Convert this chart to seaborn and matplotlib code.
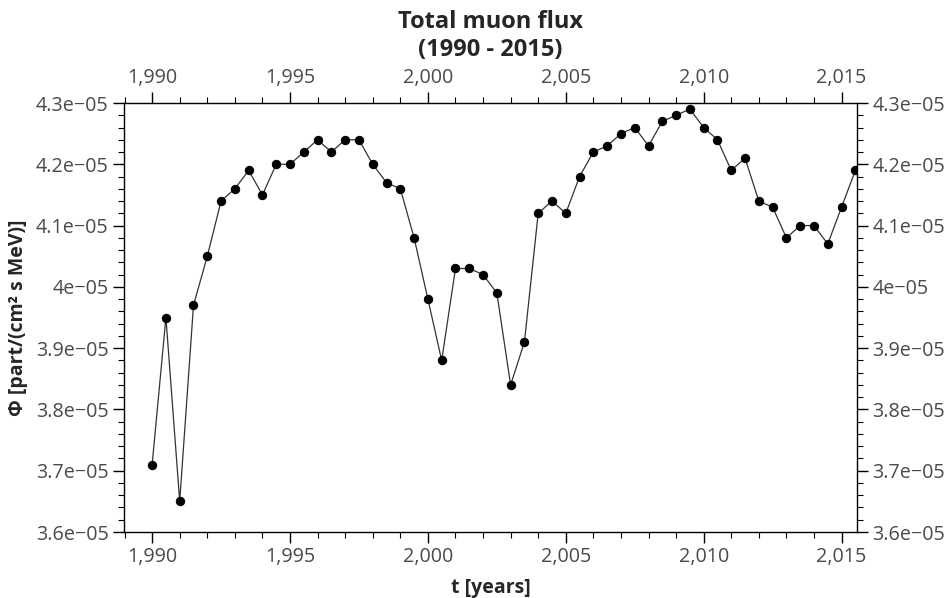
import pandas as pd
import matplotlib
matplotlib.use("Agg")
import matplotlib.pyplot as plt
import seaborn as sns
from matplotlib.ticker import MultipleLocator, FuncFormatter

# half-year samples, flux in units of 1e-05 part/(cm^2 s MeV)
years = [1990 + 0.5 * i for i in range(52)]
flux = [3.71, 3.95, 3.65, 3.97, 4.05, 4.14, 4.16, 4.19, 4.15, 4.20,
        4.20, 4.22, 4.24, 4.22, 4.24, 4.24, 4.20, 4.17, 4.16, 4.08,
        3.98, 3.88, 4.03, 4.03, 4.02, 3.99, 3.84, 3.91, 4.12, 4.14,
        4.12, 4.18, 4.22, 4.23, 4.25, 4.26, 4.23, 4.27, 4.28, 4.29,
        4.26, 4.24, 4.19, 4.21, 4.14, 4.13, 4.08, 4.10, 4.10, 4.07,
        4.13, 4.19]

df = pd.DataFrame({"t": years, "phi": [v * 1e-5 for v in flux]})

sns.set_style("ticks")
plt.rcParams["font.family"] = ["Open Sans", "DejaVu Sans"]

fig = plt.figure(figsize=(9.46, 5.98), dpi=100)
ax = fig.add_axes([124 / 946, 1 - 532 / 598, (857 - 124) / 946, (532 - 103) / 598])

sns.lineplot(df, x="t", y="phi", ax=ax, color="#333333", linewidth=0.9,
             marker="o", markersize=6, markerfacecolor="black",
             markeredgecolor="black")

ax.set_xlim(1988.98, 2015.56)
ax.set_ylim(3.6e-5, 4.3e-5)

ax.xaxis.set_major_locator(MultipleLocator(5))
ax.xaxis.set_minor_locator(MultipleLocator(1))
ax.yaxis.set_major_locator(MultipleLocator(1e-6))
ax.yaxis.set_minor_locator(MultipleLocator(2e-7))
ax.xaxis.set_major_formatter(FuncFormatter(lambda v, p: f"{v:,.0f}"))
ax.yaxis.set_major_formatter(FuncFormatter(lambda v, p: f"{v:.2g}".replace("-", "\u2212")))

ax.tick_params(which="both", direction="out", top=True, right=True,
               labeltop=True, labelright=True, colors="black",
               labelcolor="#4a4a4a", labelsize=14.2)
ax.tick_params(which="major", length=8, width=1, pad=3)
ax.tick_params(which="minor", length=4.5, width=0.8)
for s in ax.spines.values():
    s.set_visible(True)
    s.set_color("black")
    s.set_linewidth(1)

ax.set_xlabel("t [years]", fontsize=14, fontweight="bold", labelpad=8)
ax.set_ylabel("\u03a6 [part/(cm\u00b2 s MeV)]", fontsize=14, fontweight="bold", labelpad=6)
ax.set_title("Total muon flux\n(1990 - 2015)", fontsize=17, fontweight="bold",
             linespacing=1.2, y=1.0, pad=34)

fig.savefig("out.png", dpi=100)
